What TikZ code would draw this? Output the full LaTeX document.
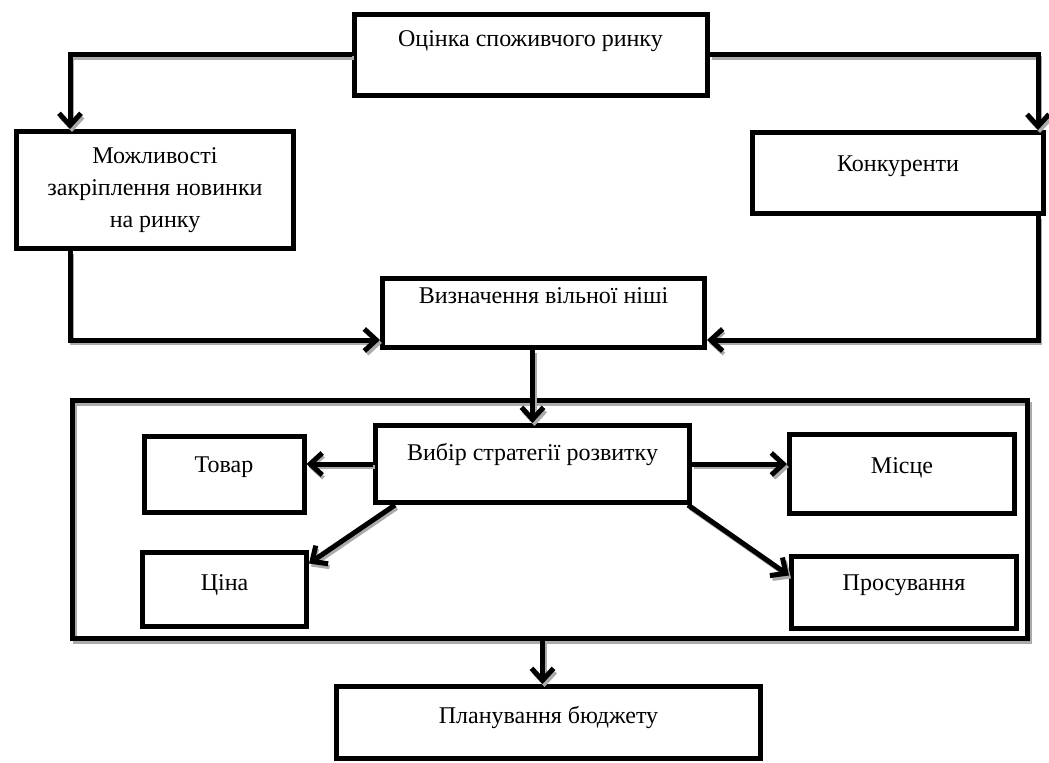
\documentclass[tikz,border=0pt]{standalone}
\usepackage{fontspec}
\setmainfont{Liberation Serif}
\usetikzlibrary{positioning, arrows.meta}
\definecolor{shade}{HTML}{ABABAB}

\tikzset{
  block/.style={draw, line width=2.5pt, inner sep=0pt, align=center},
  hd/.style={anchor=north, inner sep=0pt, text height=8.5pt, label distance=-#1},
  hd/.default=11pt,
  shadowed/.style={preaction={draw=shade, line width=2pt,
                   transform canvas={xshift=1pt, yshift=-1.5pt}}},
  link/.style={line width=2.5pt, shadowed,
               -{Straight Barb[length=6pt, width=11pt]}},
}

\begin{document}
\begin{tikzpicture}[x=0.5pt, y=-0.5pt,
    every node/.style={font=\fontsize{12}{16}\selectfont}]
  \useasboundingbox (0,0) rectangle (1049,762);

  % top level
  \node[block, minimum width=176.5pt, minimum height=40.5pt,
        label={[hd=9pt]north:Оцінка споживчого ринку}] (market) at (530.5,54.5) {};
  \node[block, minimum width=138.5pt, minimum height=58.5pt] (chance) at (155,190)
    {Можливості\\закріплення новинки\\на ринку};
  \node[block, minimum width=145.5pt, minimum height=40.5pt,
        label={[hd=12pt]north:Конкуренти}] (rivals) at (898,173) {};
  \node[block, minimum width=161pt, minimum height=34.5pt,
        label={[hd=5pt]north:Визначення вільної ніші}] (niche) at (543.5,313) {};

  % strategy frame
  \node[block, shadowed, minimum width=477.5pt, minimum height=119pt] (frame) at (550,519.5) {};
  \node[block, minimum width=157pt, minimum height=38.5pt,
        label={[hd=10pt]north:Вибір стратегії розвитку}] (choice) at (532.5,464) {};
  \node[block, minimum width=80pt, minimum height=38pt,
        label={[hd]north:Товар}] (goods) at (224,474) {};
  \node[block, minimum width=82pt, minimum height=37pt,
        label={[hd=12pt]north:Ціна}] (price) at (224.5,589) {};
  \node[block, minimum width=112.5pt, minimum height=39.5pt,
        label={[hd=12pt]north:Місце}] (place) at (902,474) {};
  \node[block, minimum width=112.5pt, minimum height=36pt,
        label={[hd=10pt]north:Просування}] (promo) at (904,592) {};

  \node[block, minimum width=212pt, minimum height=36pt,
        label={[hd=11pt]north:Планування бюджету}] (budget) at (548.5,722.5) {};

  % connectors
  \draw[link] (market.west) -| ([xshift=28pt]chance.north west);
  \draw[link] (market.east) -| ([xshift=-4pt]rivals.north east);
  \draw[link] ([xshift=28pt]chance.south west) |- ([yshift=5pt]niche.south west);
  \draw[link] ([xshift=-4pt]rivals.south east) |- ([yshift=5pt]niche.south east);
  \draw[link] (niche.south -| choice.north) -- (choice.north);
  \draw[link] (choice.west) -- (choice.west -| goods.east);
  \draw[link] (choice.east) -- (choice.east -| place.west);
  \draw[link] ([xshift=11pt]choice.south west) -- ([yshift=-7pt]price.north east);
  \draw[link] ([xshift=-2pt]choice.south east) -- ([yshift=-11pt]promo.north west);
  \draw[link] ([xshift=-3pt]frame.south -| budget.north) -- ([xshift=-3pt]budget.north);
\end{tikzpicture}
\end{document}
